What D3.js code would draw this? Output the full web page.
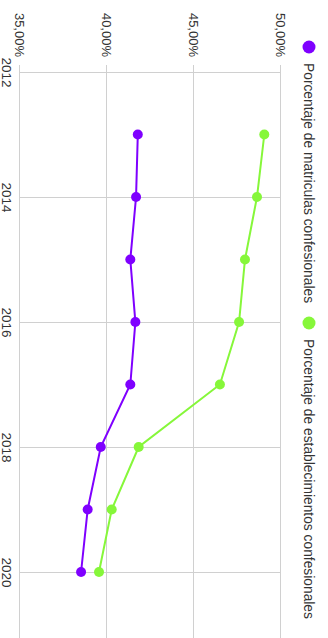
<!DOCTYPE html>
<html>
<head>
    <meta charset="UTF-8">
    <script src="https://d3js.org/d3.v7.min.js"></script>
    <style>
        body { margin: 0; background: #fff; }
        svg { display: block; font-family: "Liberation Sans", Arial, sans-serif; }
    </style>
</head>
<body>
<svg width="328" height="638"></svg>
<script>
    var years = [2013, 2014, 2015, 2016, 2017, 2018, 2019, 2020]
    var matriculas = [41.77, 41.67, 41.34, 41.63, 41.34, 39.64, 38.89, 38.51]
    var establecimientos = [49.04, 48.62, 47.93, 47.59, 46.49, 41.82, 40.27, 39.54]
    var yearTicks = [2012, 2014, 2016, 2018, 2020]
    var pctTicks = [35, 40, 45, 50]
    var seriesNames = ["Porcentaje de matriculas confesionales", "Porcentaje de establecimientos confesionales"]
    var colors = ["#7f00ff", "#86f73a"]

    // chart is drawn landscape, then turned a quarter clockwise
    var W = 638, H = 328
    var svg = d3.select("svg")
    var g = svg.append("g").attr("transform", "translate(" + H + ",0) rotate(90)")

    var x = d3.scaleLinear().domain([2012, 2020]).range([72, 572])
    var y = d3.scaleLinear().domain([35, 50]).range([308, 47])

    var fmt = function(d) { return d3.format(".2f")(d).replace(".", ",") + "%" }

    var yAxis = g.append("g")
        .attr("transform", "translate(65,0)")
        .call(d3.axisLeft(y).tickValues(pctTicks).tickSize(-(W - 65)).tickPadding(8).tickFormat(fmt))
    var xAxis = g.append("g")
        .attr("transform", "translate(0,308)")
        .call(d3.axisBottom(x).tickValues(yearTicks).tickSize(-(308 - 47)).tickPadding(8).tickFormat(d3.format("d")))

    ;[yAxis, xAxis].forEach(function(a) {
        a.select(".domain").remove()
        a.selectAll("line").attr("stroke", "#d0d0d0")
        a.selectAll("text").attr("fill", "#333").attr("font-size", 13)
        a.attr("font-family", null)
    })
    xAxis.selectAll("text").attr("font-size", 13.5)

    var series = [matriculas, establecimientos]
    var line = d3.line().x(function(d, i) { return x(years[i]) }).y(function(d) { return y(d) })

    series.forEach(function(s, k) {
        g.append("path")
            .datum(s)
            .attr("d", line)
            .attr("fill", "none")
            .attr("stroke", colors[k])
            .attr("stroke-width", 2)
        g.selectAll("circle.s" + k)
            .data(s)
            .enter()
            .append("circle")
            .attr("class", "s" + k)
            .attr("cx", function(d, i) { return x(years[i]) })
            .attr("cy", function(d) { return y(d) })
            .attr("r", 5)
            .attr("fill", colors[k])
    })

    // legend along the top (right side once turned)
    var legendX = [47, 323]
    seriesNames.forEach(function(name, k) {
        var lg = g.append("g").attr("transform", "translate(" + legendX[k] + ",19)")
        lg.append("circle").attr("r", 6.5).attr("fill", colors[k])
        lg.append("text")
            .attr("x", 16)
            .attr("dy", "0.35em")
            .attr("font-size", 13.8)
            .attr("fill", "#333")
            .text(name)
    })
</script>
</body>
</html>
